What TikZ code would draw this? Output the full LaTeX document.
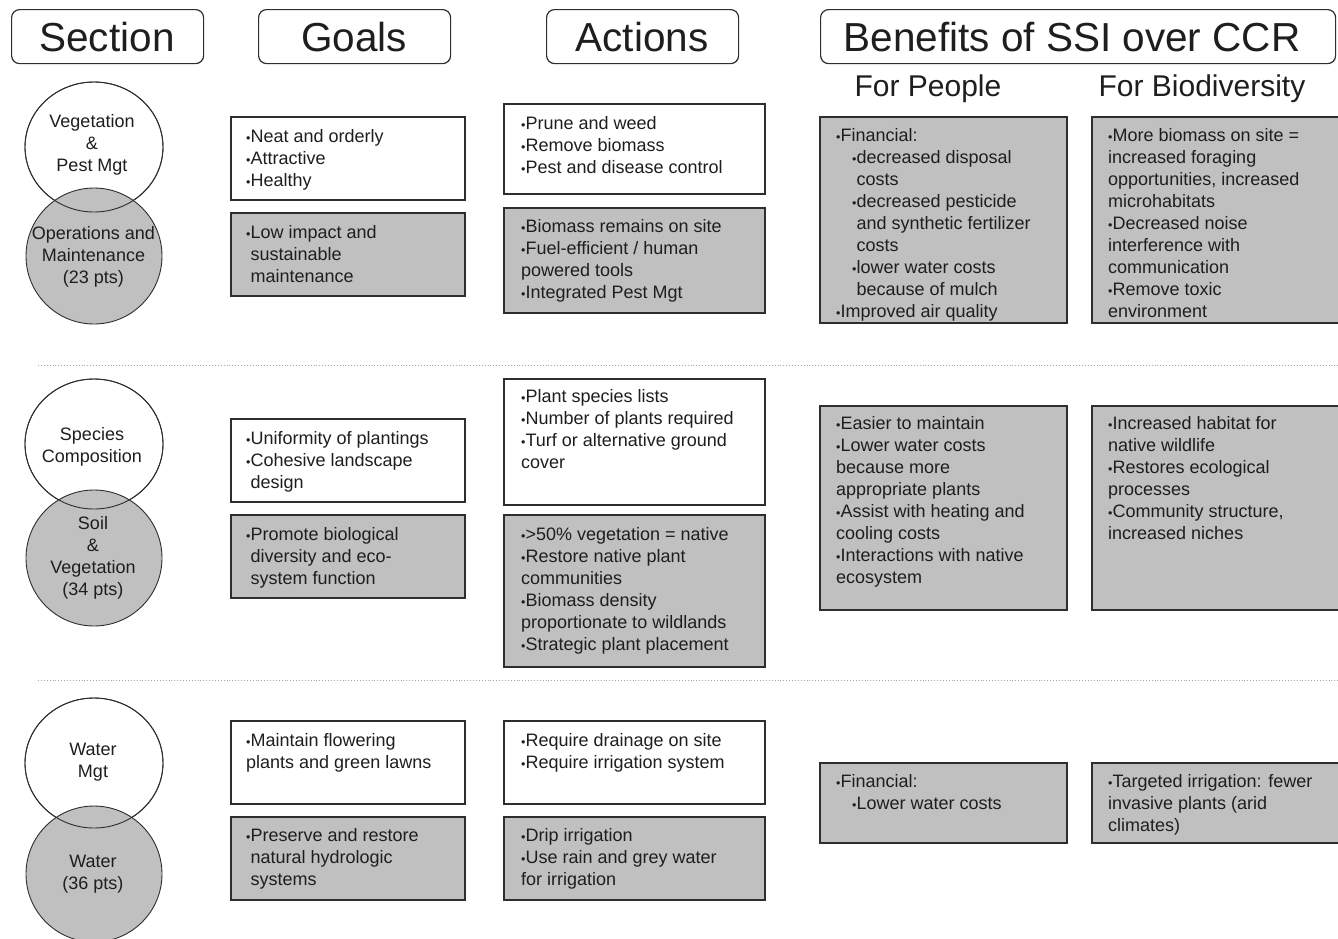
\documentclass[tikz,border=0pt]{standalone}
\usepackage{fontspec}
\setmainfont{Liberation Sans}
\usetikzlibrary{shapes.geometric}
\definecolor{boxgray}{HTML}{C0C0C0}
\definecolor{ink}{HTML}{1E1E1E}
\definecolor{edge}{HTML}{2E2E2E}
\definecolor{dotcol}{HTML}{A8A8A8}
\newcommand{\mybul}{{\fontsize{12.5}{12.5}\selectfont\raisebox{0.5pt}{•}}}
\newcommand{\myind}{\hphantom{\mybul}}
\newcommand{\subin}{\hspace*{16pt}}
\newcommand{\bxw}[5]{\node[wbox, minimum width=#4pt, minimum height=#5pt] (#1) at (#2,#3) {};}
\newcommand{\bxg}[5]{\node[gbox, minimum width=#4pt, minimum height=#5pt] (#1) at (#2,#3) {};}
\newcommand{\tx}[4]{\node[txt] (#1) at (#2,#3-8.9) {\strut #4};}
\newcommand{\ct}[4]{\node[ctxt] (#1) at (#2,#3-8.9) {\strut #4};}
\begin{document}
\begin{tikzpicture}[x=1pt,y=-1pt,
  wbox/.style={draw=edge, line width=1.3pt, fill=white, inner sep=0pt, outer sep=0pt, anchor=north west},
  gbox/.style={wbox, fill=boxgray},
  txt/.style={anchor=north west, inner sep=0pt, align=left, text=ink, font=\fontsize{18}{22}\selectfont},
  ctxt/.style={anchor=north, inner sep=0pt, align=center, text=ink, font=\fontsize{18}{22}\selectfont},
  hbox/.style={draw=edge, line width=1.2pt, rounded corners=8pt, inner sep=0pt, minimum height=54pt, anchor=north west},
  htxt/.style={anchor=base, inner sep=0pt, text=ink, font=\fontsize{40.5}{44}\selectfont},
  subtxt/.style={anchor=base, inner sep=0pt, text=ink, font=\fontsize{30}{34}\selectfont},
  wcirc/.style={ellipse, draw=edge, line width=0.9pt, fill=white, minimum width=138pt, minimum height=130pt, inner sep=0pt},
  gcirc/.style={circle, draw=edge, line width=0.9pt, fill=boxgray, minimum size=136pt, inner sep=0pt},
  sep/.style={draw=dotcol, dotted, line width=0.9pt}
]
\useasboundingbox (0,0) rectangle (1338,938);
\fill[white] (0,0) rectangle (1338,938);

% headers
\node[hbox, minimum width=192pt] (hsec) at (11,9) {};
\node[hbox, minimum width=192pt] (hgoal) at (258,9) {};
\node[hbox, minimum width=192pt] (hact) at (546,9) {};
\node[hbox, minimum width=515pt] (hben) at (820,9) {};
\node[htxt] (tsec) at (107,51.5) {Section};
\node[htxt] (tgoal) at (354,51.5) {Goals};
\node[htxt] (tact) at (642,51.5) {Actions};
\node[htxt] (tben) at (1072,51.5) {Benefits of SSI over CCR};
\node[subtxt] (tpeople) at (928,96) {For People};
\node[subtxt] (tbio) at (1202,96) {For Biodiversity};

% separators
\coordinate (s1a) at (38,365); \coordinate (s1b) at (1338,365);
\coordinate (s2a) at (38,680); \coordinate (s2b) at (1338,680);
\draw[sep] (s1a) -- (s1b);
\draw[sep] (s2a) -- (s2b);

% circles
\node[wcirc] (veg) at (94,147) {};
\node[gcirc] (om) at (94,256) {};
\draw[edge, line width=0.9pt] (veg.center) ellipse [x radius=69, y radius=65];
\node[wcirc] (spec) at (94,444) {};
\node[gcirc] (soil) at (94,558) {};
\draw[edge, line width=0.9pt] (spec.center) ellipse [x radius=69, y radius=65];
\node[wcirc] (wmgt) at (94,763) {};
\node[gcirc] (wat) at (94,874) {};
\draw[edge, line width=0.9pt] (wmgt.center) ellipse [x radius=69, y radius=65];

\ct{tveg}{92}{121}{Vegetation\\\&\\Pest Mgt}
\ct{tom}{93.5}{233}{Operations and\\Maintenance\\(23 pts)}
\ct{tspec}{92}{434}{Species\\Composition}
\ct{tsoil}{93}{523}{Soil\\\&\\Vegetation\\(34 pts)}
\ct{twmgt}{93}{749}{Water\\Mgt}
\ct{twat}{93}{861}{Water\\(36 pts)}

% row 1 boxes
\bxw{g1w}{231}{117}{234}{83}
\bxg{g1g}{231}{213}{234}{83}
\bxw{a1w}{504}{104}{261}{90}
\bxg{a1g}{504}{208}{261}{105}
\bxg{p1}{820}{117}{247}{206}
\bxg{b1}{1092}{117}{256}{206}
% row 2 boxes
\bxw{g2w}{231}{419}{234}{83}
\bxg{g2g}{231}{515}{234}{83}
\bxw{a2w}{504}{379}{261}{126}
\bxg{a2g}{504}{515}{261}{152}
\bxg{p2}{820}{406}{247}{204}
\bxg{b2}{1092}{406}{256}{204}
% row 3 boxes
\bxw{g3w}{231}{721}{234}{83}
\bxg{g3g}{231}{817}{234}{83}
\bxw{a3w}{504}{721}{261}{83}
\bxg{a3g}{504}{817}{261}{83}
\bxg{p3}{820}{763}{247}{80}
\bxg{b3}{1092}{763}{256}{80}

% row 1 texts
\tx{g1wt}{246}{136}{\mybul Neat and orderly\\\mybul Attractive\\\mybul Healthy}
\tx{g1gt}{246}{232}{\mybul Low impact and\\\myind sustainable\\\myind maintenance}
\tx{a1wt}{521}{123}{\mybul Prune and weed\\\mybul Remove biomass\\\mybul Pest and disease control}
\tx{a1gt}{521}{226}{\mybul Biomass remains on site\\\mybul Fuel-efficient / human\\powered tools\\\mybul Integrated Pest Mgt}
\tx{p1t}{836}{135}{\mybul Financial:\\\subin\mybul decreased disposal\\\subin\myind costs\\\subin\mybul decreased pesticide\\\subin\myind and synthetic fertilizer\\\subin\myind costs\\\subin\mybul lower water costs\\\subin\myind because of mulch\\\mybul Improved air quality}
\tx{b1t}{1108}{135}{\mybul More biomass on site =\\increased foraging\\opportunities, increased\\microhabitats\\\mybul Decreased noise\\interference with\\communication\\\mybul Remove toxic\\environment}

% row 2 texts
\tx{g2wt}{246}{438}{\mybul Uniformity of plantings\\\mybul Cohesive landscape\\\myind design}
\tx{g2gt}{246}{534}{\mybul Promote biological\\\myind diversity and eco-\\\myind system function}
\tx{a2wt}{521}{396}{\mybul Plant species lists\\\mybul Number of plants required\\\mybul Turf or alternative ground\\cover}
\tx{a2gt}{521}{534}{\mybul >50\% vegetation = native\\\mybul Restore native plant\\communities\\\mybul Biomass density\\proportionate to wildlands\\\mybul Strategic plant placement}
\tx{p2t}{836}{423}{\mybul Easier to maintain\\\mybul Lower water costs\\because more\\appropriate plants\\\mybul Assist with heating and\\cooling costs\\\mybul Interactions with native\\ecosystem}
\tx{b2t}{1108}{423}{\mybul Increased habitat for\\native wildlife\\\mybul Restores ecological\\processes\\\mybul Community structure,\\increased niches}

% row 3 texts
\tx{g3wt}{246}{740}{\mybul Maintain flowering\\plants and green lawns}
\tx{g3gt}{246}{835}{\mybul Preserve and restore\\\myind natural hydrologic\\\myind systems}
\tx{a3wt}{521}{740}{\mybul Require drainage on site\\\mybul Require irrigation system}
\tx{a3gt}{521}{835}{\mybul Drip irrigation\\\mybul Use rain and grey water\\for irrigation}
\tx{p3t}{836}{781}{\mybul Financial:\\\subin\mybul Lower water costs}
\tx{b3t}{1108}{781}{\mybul Targeted irrigation: fewer\\invasive plants (arid\\climates)}
\end{tikzpicture}
\end{document}
